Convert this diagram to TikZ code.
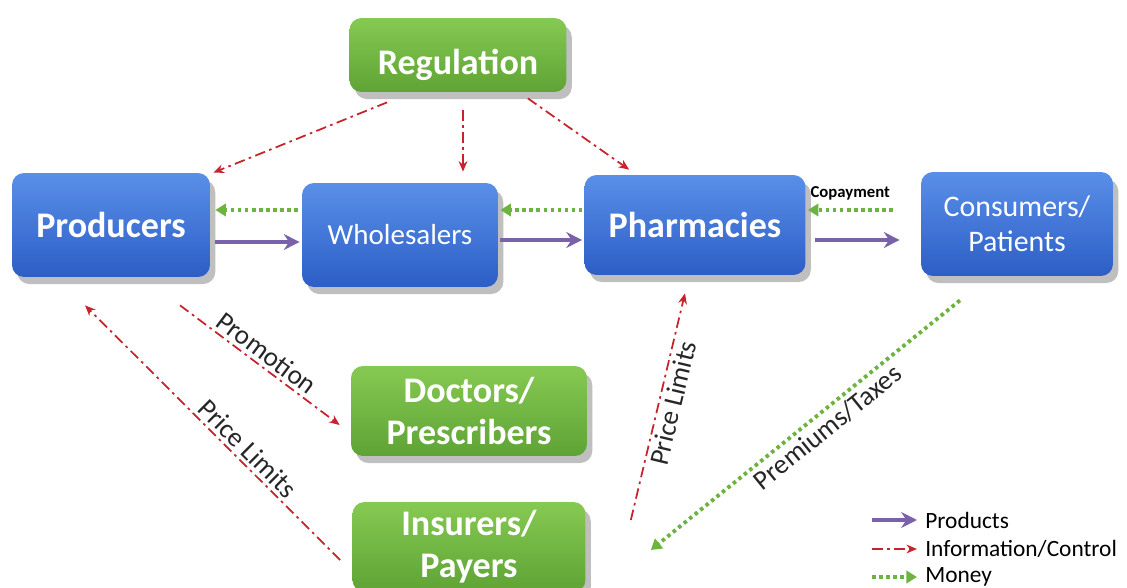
\documentclass[tikz,border=0pt]{standalone}
\usepackage{fontspec}
\setmainfont{Carlito}
\usetikzlibrary{calc}
\usetikzlibrary{shadows}
\usetikzlibrary{arrows.meta}
\definecolor{c_blue_top}{HTML}{5A8FE8}
\definecolor{c_blue_bot}{HTML}{2C5EC6}
\definecolor{c_green_top}{HTML}{86C952}
\definecolor{c_green_bot}{HTML}{5EA335}
\definecolor{c_purple}{HTML}{7A62AA}
\definecolor{lred}{HTML}{C8232C}
\definecolor{c_money}{HTML}{6DB33F}

\begin{document}
\begin{tikzpicture}
[x=0.02cm,y=-0.02cm,
 nodebox/.style={rounded corners=0.24cm, text=white, align=center,
   font=\bfseries\fontsize{20.5}{24}\selectfont,
   drop shadow={shadow xshift=3pt, shadow yshift=-4pt, opacity=0.25, fill=black}},
 bluebox/.style={nodebox, top color=c_blue_top, bottom color=c_blue_bot},
 greenbox/.style={nodebox, top color=c_green_top, bottom color=c_green_bot},
 prodarrow/.style={c_purple, line width=1.8pt, -{Stealth[length=9pt,width=9pt]}},
 infoarrow/.style={lred, line width=1pt, dash pattern=on 6pt off 2.5pt on 1.5pt off 2.5pt, -{Stealth[length=6pt,width=5pt]}},
 moneyarrow/.style={c_money, line width=2.2pt, dash pattern=on 2pt off 2pt, -{Triangle[length=6pt,width=7pt]}},
 lbl/.style={font=\fontsize{15.5}{18}\selectfont, text=black!85, inner sep=2pt}]
	\useasboundingbox (0,0) rectangle (1127,588);

	% boxes
	\node [greenbox, minimum width=4.34cm, minimum height=1.48cm] (reg) at (458,55) {\raisebox{-11pt}[0pt][0pt]{Regulation}};
	\node [bluebox, minimum width=3.96cm, minimum height=2.08cm] (prod) at (111,225) {Producers};
	\node [bluebox, minimum width=3.92cm, minimum height=2.08cm, font=\fontsize{16.5}{20}\selectfont] (whole) at (400,235) {Wholesalers};
	\node [bluebox, minimum width=4.42cm, minimum height=2.0cm] (pharm) at (695,225) {Pharmacies};
	\node [bluebox, minimum width=3.84cm, minimum height=2.08cm, font=\fontsize{17}{20}\selectfont] (cons) at (1017,224) {Consumers/\\Patients};
	\node [greenbox, minimum width=4.72cm, minimum height=1.8cm] (doc) at (469,411) {Doctors/\\Prescribers};
	\node [greenbox, minimum width=4.66cm, minimum height=1.8cm] (ins) at (469,547) {Insurers/\\Payers};

	% products
	\draw [prodarrow] ($(prod.east)+(5,17)$) -- ($(whole.west)+(-2,7)$);
	\draw [prodarrow] ($(whole.east)+(2,5)$) -- ($(pharm.west)+(-2,15)$);
	\draw [prodarrow] ($(pharm.east)+(9,15)$) -- ($(cons.west)+(-21,16)$);

	% money
	\draw [moneyarrow] ($(whole.west)+(-4,-25)$) -- ($(prod.east)+(5,-15)$);
	\draw [moneyarrow] ($(pharm.west)+(-2,-15)$) -- ($(whole.east)+(2,-25)$);
	\draw [moneyarrow] ($(cons.west)+(-28,-14)$) -- ($(pharm.east)+(2,-15)$)
		node [midway, above=1pt, font=\bfseries\fontsize{9.5}{11}\selectfont, text=black] (copay) {Copayment};
	\draw [moneyarrow] ($(cons.south)+(-57,24)$) -- ($(ins.east)+(65,3)$)
		node [lbl, pos=0.46, sloped, below] (prem) {Premiums/Taxes};

	% information / control
	\draw [infoarrow] ($(reg.south west)+(38,10)$) -- ($(prod.north east)+(3,0)$);
	\draw [infoarrow] ($(reg.south)+(5,18)$) -- ($(whole.north)+(63,-11)$);
	\draw [infoarrow] ($(reg.south east)+(-39,6)$) -- ($(pharm.north west)+(45,-5)$);
	\draw [infoarrow] ($(prod.south)+(69,28)$) -- ($(doc.west)+(-11,14)$)
		node [lbl, pos=0.49, sloped, above] (promo) {Promotion};
	\draw [infoarrow] ($(ins.west)+(-12,13)$) -- ($(prod.south)+(-26,28)$)
		node [lbl, pos=0.4, sloped, above] (plim1) {Price Limits};
	\draw [infoarrow] ($(ins.east)+(45,-27)$) -- ($(pharm.south)+(-10,18)$)
		node [lbl, pos=0.53, sloped, below] (plim2) {Price Limits};

	% legend
	\node [anchor=west, font=\fontsize{13.3}{15}\selectfont, inner sep=0pt] (lgprod) at (925,520) {Products};
	\node [anchor=west, font=\fontsize{13.3}{15}\selectfont, inner sep=0pt] (lginfo) at (925,549) {Information/Control};
	\node [anchor=west, font=\fontsize{13.3}{15}\selectfont, inner sep=0pt] (lgmoney) at (925,577) {Money};
	\draw [prodarrow, line width=2.4pt] ($(lgprod.west)+(-53,0)$) -- ($(lgprod.west)+(-8,0)$);
	\draw [infoarrow] ($(lginfo.west)+(-53,0)$) -- ($(lginfo.west)+(-8,0)$);
	\draw [moneyarrow] ($(lgmoney.west)+(-53,0)$) -- ($(lgmoney.west)+(-8,0)$);

\end{tikzpicture}
\end{document}
